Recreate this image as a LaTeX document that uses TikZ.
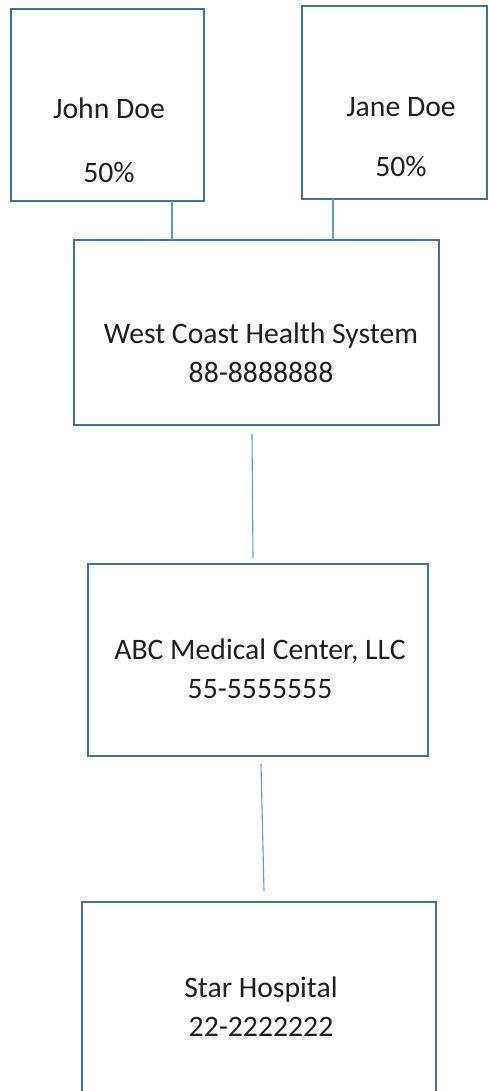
\documentclass[tikz,border=0pt]{standalone}
\usepackage{fontspec}
\setmainfont{Carlito}
\usepackage{tikz}

\definecolor{boxblue}{HTML}{41719C}
\definecolor{linkblue}{HTML}{5B9BD5}
\definecolor{txtgray}{HTML}{231F20}

\tikzset{
  entitybox/.style={draw=boxblue, line width=2.8pt, inner sep=0pt, outer sep=0pt},
  ownerline/.style={draw=linkblue, line width=1.1pt},
  entitytext/.style={font=\fontsize{29.7}{38.5}\selectfont, text=txtgray, align=center, anchor=base, inner sep=0pt}
}

\begin{document}
\begin{tikzpicture}[x=1pt, y=-1pt]
  \useasboundingbox (0,0) rectangle (488,1091);
  \clip (0,0) rectangle (488,1091);

  \node[entitybox, minimum width=193pt, minimum height=192pt] (john) at (107.5,105) {};
  \node[entitybox, minimum width=185pt, minimum height=193pt] (jane) at (394.5,102.5) {};
  \node[entitybox, minimum width=365pt, minimum height=185pt] (west) at (256.5,332.5) {};
  \node[entitybox, minimum width=340pt, minimum height=192pt] (abc) at (258,660) {};
  \node[entitybox, minimum width=354pt, minimum height=208pt] (star) at (259,1006) {};

  % base anchor sits on the last line
  \node[entitytext] (johntxt) at (109,183) {John Doe\\[25.5pt]50\%};
  \node[entitytext] (janetxt) at (401,177) {Jane Doe\\[21.5pt]50\%};
  \node[entitytext] (westtxt) at (261,382) {West Coast Health System\\88-8888888};
  \node[entitytext] (abctxt) at (260,698) {ABC Medical Center, LLC\\55-5555555};
  \node[entitytext] (startxt) at (261,1036) {Star Hospital\\22-2222222};

  \draw[ownerline] ([xshift=64.5pt]john.south) -- ([xshift=-84.5pt]west.north);
  \draw[ownerline] ([xshift=-61.5pt]jane.south) -- ([xshift=76.5pt]west.north);
  \draw[ownerline] ([xshift=-4.5pt, yshift=-9pt]west.south) -- ([xshift=-5pt, yshift=6pt]abc.north);
  \draw[ownerline] ([xshift=3pt, yshift=-8pt]abc.south) -- ([xshift=5pt, yshift=11pt]star.north);
\end{tikzpicture}
\end{document}
